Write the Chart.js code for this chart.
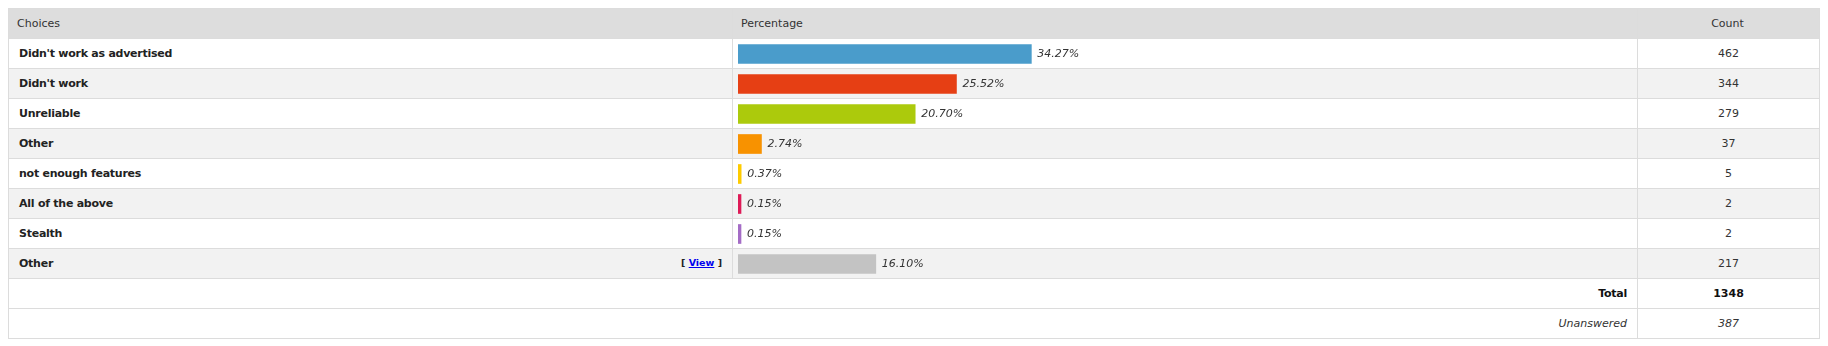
<!DOCTYPE html>
<html>
<head>
<meta charset="utf-8">
<script src="https://cdn.jsdelivr.net/npm/chart.js@4/dist/chart.umd.min.js"></script>
<style>
  html, body { margin:0; padding:0; background:#fff; }
  body { font-family:'DejaVu Sans', Tahoma, sans-serif; font-size:11px; color:#333; }
  #wrap { position:absolute; left:8px; top:8px; }
  table { border-collapse:collapse; width:1811px; table-layout:fixed; }
  td, th { border:1px solid #dcdcdc; padding:0 10px; height:30px; box-sizing:border-box; }
  th { background:#dddddd; font-weight:normal; text-align:left; height:30px; padding-left:8px; }
  th.cnt, td.cnt { text-align:center; }
  tr.odd td { background:#fff; }
  tr.even td { background:#f2f2f2; }
  td.lbl { font-weight:bold; color:#222; letter-spacing:-0.25px; }
  .view { float:right; font-weight:bold; font-size:9.5px; color:#222; letter-spacing:0; }
  .view a { color:#0000ee; text-decoration:underline; }
  td.tot { text-align:right; font-weight:bold; color:#111; letter-spacing:-0.25px; }
  td.totn { font-weight:bold; color:#111; }
  td.un { text-align:right; font-style:italic; }
  td.unn { font-style:italic; }
  #pct { position:absolute; left:725px; top:31px; width:904px; height:240px; }
</style>
</head>
<body>
<div id="wrap">
  <table id="tbl">
    <colgroup><col style="width:724px"><col style="width:905px"><col style="width:182px"></colgroup>
    <thead><tr><th>Choices</th><th>Percentage</th><th class="cnt">Count</th></tr></thead>
    <tbody id="rows"></tbody>
  </table>
  <div id="pct"><canvas id="bars"></canvas></div>
</div>
<script>
// survey answers
const choices = ["Didn't work as advertised", "Didn't work", "Unreliable", "Other", "not enough features", "All of the above", "Stealth", "Other"];
const percents = [34.27, 25.52, 20.70, 2.74, 0.37, 0.15, 0.15, 16.10];
const counts = [462, 344, 279, 37, 5, 2, 2, 217];
const barColors = ['#4a9ccb', '#e63f14', '#acca0c', '#f89200', '#fecb00', '#de1a57', '#a46cc6', '#c3c3c3'];
const totalCount = 1348;
const unanswered = 387;

const tb = document.getElementById('rows');
let html = '';
choices.forEach((c, i) => {
  const cls = i % 2 === 0 ? 'odd' : 'even';
  const extra = i === choices.length - 1 ? '<span class="view">[ <a href="#">View</a> ]</span>' : '';
  html += `<tr class="${cls}"><td class="lbl">${c}${extra}</td><td></td><td class="cnt">${counts[i]}</td></tr>`;
});
html += `<tr class="odd"><td colspan="2" class="tot">Total</td><td class="cnt totn">${totalCount}</td></tr>`;
html += `<tr class="odd"><td colspan="2" class="un">Unanswered</td><td class="cnt unn">${unanswered}</td></tr>`;
tb.innerHTML = html;

// percent text right after each bar
const pctLabels = {
  id: 'pctLabels',
  afterDatasetsDraw(chart) {
    const ctx = chart.ctx;
    const meta = chart.getDatasetMeta(0);
    ctx.save();
    ctx.font = 'italic 11px "DejaVu Sans"';
    ctx.fillStyle = '#333';
    ctx.textBaseline = 'middle';
    meta.data.forEach((bar, i) => {
      ctx.fillText(percents[i].toFixed(2) + '%', bar.x + 6, bar.y + 0.5);
    });
    ctx.restore();
  }
};

new Chart(document.getElementById('bars'), {
  type: 'bar',
  data: {
    labels: choices.map((c, i) => c + ' ' + i),
    datasets: [{
      data: percents,
      backgroundColor: barColors,
      borderWidth: 0,
      barThickness: 19,
      minBarLength: 3
    }]
  },
  options: {
    indexAxis: 'y',
    responsive: true, maintainAspectRatio: false,
    devicePixelRatio: 1,
    animation: false,
    layout: { padding: { left: 5, right: 43, top: 0, bottom: 0 } },
    plugins: { legend: { display: false }, tooltip: { enabled: false } },
    scales: {
      x: { display: false, min: 0, max: 100 },
      y: { display: false }
    }
  },
  plugins: [pctLabels]
});
</script>
</body>
</html>
